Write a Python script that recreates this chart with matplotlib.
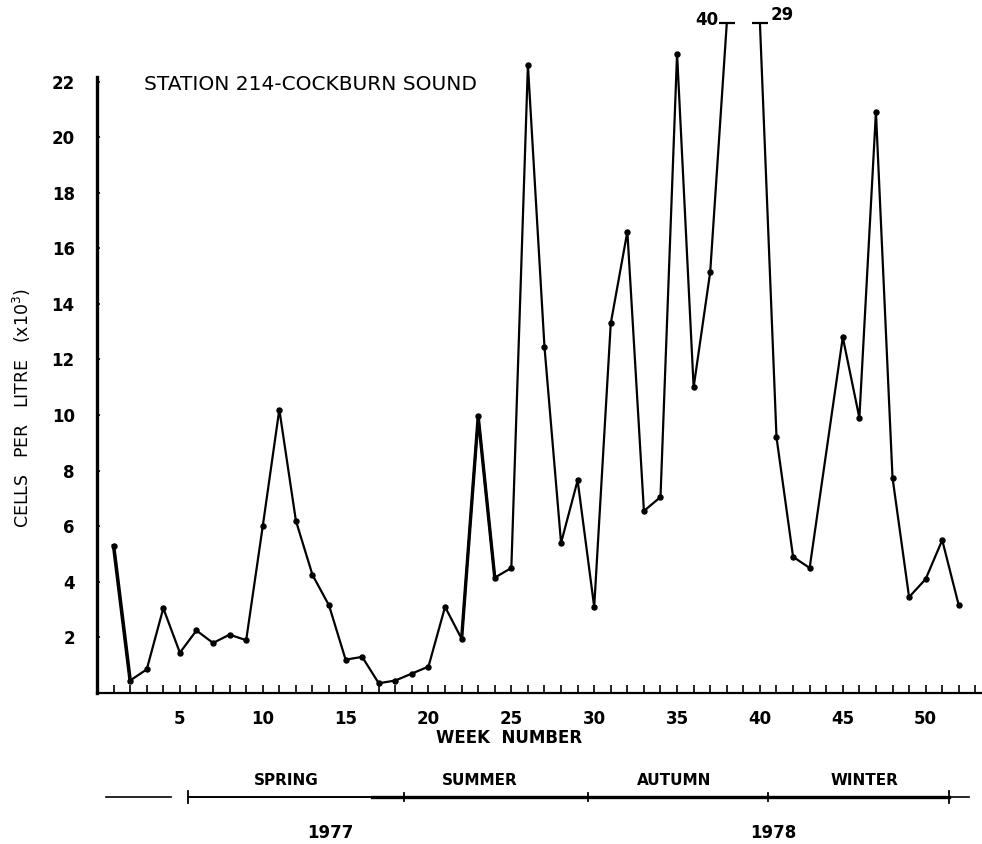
import numpy as np
import matplotlib
matplotlib.use("Agg")
import matplotlib.pyplot as plt
import matplotlib.transforms as mtransforms

# weekly counts, cells per litre (x10^3); week 39 not sampled
weeks = list(range(1, 53))
cells = [5.3, 0.45, 0.85, 3.05, 1.45, 2.25, 1.8, 2.1, 1.9, 6.0,
         10.2, 6.2, 4.25, 3.15, 1.2, 1.3, 0.35, 0.45, 0.7, 0.95,
         3.1, 1.95, 9.95, 4.15, 4.5, 22.6, 12.45, 5.4, 7.65, 3.1,
         13.3, 16.6, 6.55, 7.05, 23.0, 11.0, 15.15, 40.0, np.nan, 29.0,
         9.2, 4.9, 4.5, np.nan, 12.8, 9.9, 20.9, 7.75, 3.45, 4.1,
         5.5, 3.15]
# off-scale values are drawn at the top and labelled
clip_at = 24.1

y_ticks = [2, 4, 6, 8, 10, 12, 14, 16, 18, 20, 22]
x_labels = [5, 10, 15, 20, 25, 30, 35, 40, 45, 50]

seasons = ["SPRING", "SUMMER", "AUTUMN", "WINTER"]
season_mid = [11.4, 23.1, 34.8, 46.3]
season_edges = [5.5, 18.5, 29.6, 40.5, 51.4]
years = ["1977", "1978"]
year_mid = [14.1, 40.8]

plt.rcParams['font.family'] = ['DejaVu Sans']

fig = plt.figure(figsize=(9.82, 8.44), dpi=100)
ax = fig.add_axes([0.0988, 0.1789, 0.9012, 0.8167])

w = np.array(weeks, dtype=float)
v = np.array(cells, dtype=float)
shown = np.where(v > clip_at, clip_at, v)

# weeks 43-45: no sample at 44, line is drawn straight through
ok = ~(np.isnan(v) & (w == 44))
ax.plot(w[ok], shown[ok], color='black', lw=1.6, marker='o', ms=3.6,
        markevery=[i for i in range(ok.sum()) if w[ok][i] not in (38, 40)])
ax.plot(w[:2], shown[:2], color='black', lw=2.6)
ax.plot(w[21:24], shown[21:24], color='black', lw=2.4)

for i in range(len(w)):
    if v[i] > clip_at:
        ax.plot(w[i], clip_at, marker='_', ms=12, mew=1.6, color='black')
ax.annotate("40", (38, clip_at), xytext=(-6, 2), textcoords='offset points',
            ha='right', va='center', fontsize=12, fontweight='bold')
ax.annotate("29", (40, clip_at), xytext=(8, 6), textcoords='offset points',
            ha='left', va='center', fontsize=12, fontweight='bold')

ax.set_xlim(0, 53.4)
ax.set_ylim(0, 24.8)

for s in ['top', 'right']:
    ax.spines[s].set_visible(False)
ax.spines['left'].set_bounds(0, 22.15)
ax.spines['left'].set_linewidth(2.4)
ax.spines['bottom'].set_linewidth(1.6)

ax.set_xticks(range(1, 54))
ax.set_xticklabels([str(t) if t in x_labels else "" for t in range(1, 54)])
ax.tick_params(axis='x', direction='in', length=6, width=1.2, pad=12,
               labelsize=12)
ax.set_yticks(y_ticks)
ax.set_yticklabels([str(t) for t in y_ticks])
ax.tick_params(axis='y', direction='in', length=2, width=1.2, pad=16,
               labelsize=12)
for lab in ax.get_xticklabels() + ax.get_yticklabels():
    lab.set_fontweight('bold')

ax.text(2.85, 21.9, "STATION 214-COCKBURN SOUND", fontsize=14.5,
        va='center', ha='left')

fig.text(0.022, 0.517, "CELLS   PER   LITRE   (x10$^3$)", rotation=90,
         ha='center', va='center', fontsize=12.5)
fig.text(0.518, 0.126, "WEEK  NUMBER", ha='center', va='center',
         fontsize=12, fontweight='bold')

# season bar below the axis
tr = mtransforms.blended_transform_factory(ax.transData, fig.transFigure)
ybar = 0.0557
ax.plot([0.54, 4.47], [ybar, ybar], color='black', lw=1.2, transform=tr,
        clip_on=False)
ax.plot([season_edges[0], 16.6], [ybar, ybar], color='black', lw=1.4,
        transform=tr, clip_on=False)
ax.plot([16.6, season_edges[-1]], [ybar, ybar], color='black', lw=2.4,
        transform=tr, clip_on=False)
ax.plot([season_edges[-1], 52.6], [ybar, ybar], color='black', lw=1.2,
        transform=tr, clip_on=False)
for k, e in enumerate(season_edges):
    h = 0.007 if k in (0, len(season_edges) - 1) else 0.005
    ax.plot([e, e], [ybar - h, ybar + h], color='black', lw=1.3,
            transform=tr, clip_on=False)
for name, m in zip(seasons, season_mid):
    ax.text(m, 0.0758, name, transform=tr, ha='center', va='center',
            fontsize=11, fontweight='bold')
for name, m in zip(years, year_mid):
    ax.text(m, 0.013, name, transform=tr, ha='center', va='center',
            fontsize=12, fontweight='bold')

fig.savefig("out.png", dpi=100)
